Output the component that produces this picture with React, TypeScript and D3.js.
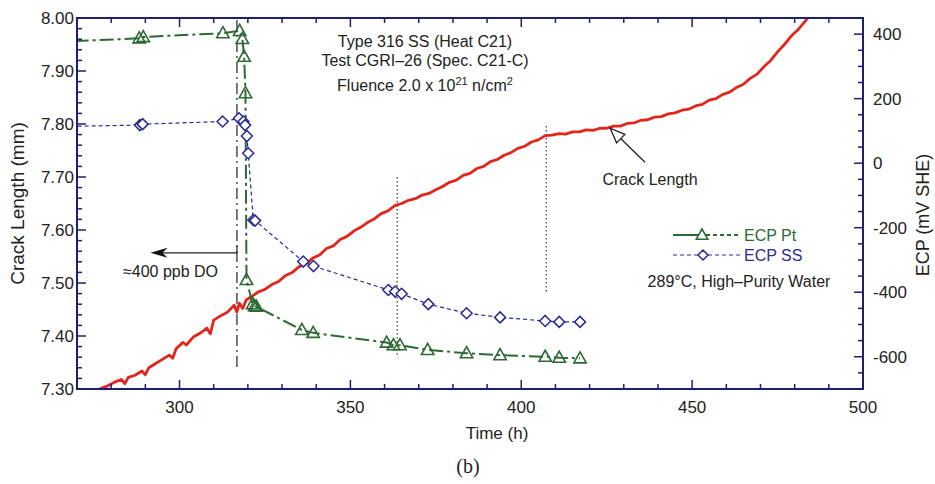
import React from "react";
import * as d3 from "d3";

const W = 935;
const H = 484;

// Axis ticks
const timeTicks = [300, 350, 400, 450, 500];
const crackTicks = [7.3, 7.4, 7.5, 7.6, 7.7, 7.8, 7.9, 8.0];
const ecpTicks = [-600, -400, -200, 0, 200, 400];

// Crack length (red trace)
const crackTime = [276.5, 279, 281, 283, 284, 285, 287, 289, 290, 291, 293, 295, 297, 298, 299, 301, 302, 304, 306, 308, 309, 310, 312, 314, 316, 316.8, 317.5, 318.5, 319.5,
  321, 323, 325, 327, 329, 331, 333, 335, 337, 339, 341, 343, 345, 347, 349, 351, 353, 355, 357, 359, 361, 363, 365, 367, 369, 371, 373, 375, 377, 379, 381, 383, 385, 387, 389, 391, 393, 395, 397, 399, 401, 403, 405, 407, 409, 411, 413, 415, 417, 419, 421, 423, 425, 427, 429, 431, 433, 435, 437, 439, 441, 443, 445, 447, 449, 451, 453, 455, 457, 459, 461, 463, 465, 467, 469, 471, 473, 475, 477, 479, 481, 483, 485];
const crackLen = [7.3, 7.306, 7.313, 7.318, 7.31, 7.322, 7.326, 7.334, 7.327, 7.34, 7.348, 7.356, 7.364, 7.358, 7.376, 7.388, 7.383, 7.398, 7.405, 7.415, 7.404, 7.43, 7.438, 7.445, 7.458, 7.445, 7.462, 7.452, 7.468,
  7.474, 7.483, 7.488, 7.497, 7.503, 7.514, 7.52, 7.531, 7.536, 7.547, 7.553, 7.565, 7.57, 7.582, 7.588, 7.598, 7.605, 7.614, 7.621, 7.631, 7.636, 7.646, 7.65, 7.656, 7.659, 7.666, 7.669, 7.676, 7.682, 7.69, 7.694, 7.703, 7.707, 7.716, 7.72, 7.729, 7.733, 7.741, 7.746, 7.754, 7.758, 7.766, 7.77, 7.778, 7.779, 7.782, 7.781, 7.785, 7.785, 7.789, 7.788, 7.792, 7.792, 7.796, 7.796, 7.801, 7.802, 7.807, 7.808, 7.813, 7.814, 7.819, 7.821, 7.826, 7.828, 7.834, 7.837, 7.845, 7.848, 7.856, 7.86, 7.869, 7.875, 7.886, 7.894, 7.908, 7.92, 7.936, 7.95, 7.966, 7.978, 7.993, 8.01];

// ECP Pt
const ptTime = [262, 288.2, 289.4, 312.7, 317.6, 318.4, 318.9, 319.3, 319.6, 321.4, 322.0, 322.5, 335.8, 339.1, 360.6, 362.6, 364.5, 372.6, 384.0, 393.8, 407.0, 411.1, 417.2];
const ptEcp = [375, 387, 391, 403, 410, 385, 330, 217, -362, -437, -443, -445, -517, -526, -556, -564, -564, -579, -589, -595, -600, -603, -605];

// ECP SS
const ssTime = [262, 288.4, 289.2, 312.6, 317.4, 318.7, 319.2, 319.7, 320.1, 321.6, 322.1, 336.2, 339.2, 361.1, 363.1, 365.0, 372.8, 384.0, 393.8, 407.0, 411.1, 417.2];
const ssEcp = [113, 118, 121, 129, 139, 129, 118, 84, 31, -176, -178, -305, -319, -393, -398, -405, -437, -465, -478, -489, -492, -492];

// Reference lines / annotations (data coordinates)
const doChangeTime = 316.8;
const dottedTimes = [363.7, 407.3];
const dottedRanges = [[7.70, 7.36], [7.796, 7.48]];

const navy = "#1f1f70";
const red = "#e3261c";
const green = "#2c6a33";
const blue = "#2a2a92";
const font = "'Liberation Sans', Arial, sans-serif";

const M = { left: 77, right: 863, top: 18, bottom: 389 };

export default function App() {
  const x = d3.scaleLinear().domain([270, 500]).range([M.left, M.right]);
  const yC = d3.scaleLinear().domain([7.3, 8.0]).range([M.bottom, M.top]);
  const yE = d3.scaleLinear().domain([-700, 450]).range([M.bottom, M.top]);

  const crackPts = crackTime.map((t, i) => [t, crackLen[i]] as [number, number]);
  const ptPts = ptTime.map((t, i) => [t, ptEcp[i]] as [number, number]);
  const ssPts = ssTime.map((t, i) => [t, ssEcp[i]] as [number, number]);

  const crackLine = d3.line<[number, number]>().x(d => x(d[0])).y(d => yC(d[1]));
  const ecpLine = d3.line<[number, number]>().x(d => x(d[0])).y(d => yE(d[1]));

  const minorTime = d3.range(270, 501, 10);
  const minorCrack = d3.range(0, 36).map(i => 7.3 + i * 0.02);
  const minorEcp = d3.range(-700, 451, 50);

  const tri = (cx: number, cy: number, s = 6.5) =>
    `M${cx},${cy - s}L${cx + s * 0.95},${cy + s * 0.7}L${cx - s * 0.95},${cy + s * 0.7}Z`;
  const dia = (cx: number, cy: number, s = 5.5) =>
    `M${cx},${cy - s}L${cx + s},${cy}L${cx},${cy + s}L${cx - s},${cy}Z`;

  const arrowY = yC(7.557);
  const arrowX1 = x(doChangeTime);
  const arrowX0 = x(291.5);

  const tipX = x(426), tipY = yC(7.792);
  const tailX = x(436.2), tailY = yC(7.728);
  const ang = Math.atan2(tipY - tailY, tipX - tailX);
  const ah = 16, aw = 0.38;
  const ahp1 = [tipX - ah * Math.cos(ang - aw), tipY - ah * Math.sin(ang - aw)];
  const ahp2 = [tipX - ah * Math.cos(ang + aw), tipY - ah * Math.sin(ang + aw)];

  return (
    <svg width={W} height={H} style={{ position: "absolute", left: 0, top: 0, background: "#fff" }}>
      <defs>
        <clipPath id="plot">
          <rect x={M.left} y={M.top} width={M.right - M.left} height={M.bottom - M.top} />
        </clipPath>
      </defs>

      {/* reference lines */}
      <line x1={x(doChangeTime)} x2={x(doChangeTime)} y1={M.top + 2} y2={yC(7.34)} stroke="#222" strokeWidth={1.2} strokeDasharray="11,4,2,4" />
      {dottedTimes.map((t, i) => (
        <line key={i} x1={x(t)} x2={x(t)} y1={yC(dottedRanges[i][0])} y2={yC(dottedRanges[i][1])} stroke="#333" strokeWidth={1.2} strokeDasharray="1.5,2.5" />
      ))}

      <g clipPath="url(#plot)">
        <path d={crackLine(crackPts) || ""} fill="none" stroke={red} strokeWidth={2.8} strokeLinejoin="round" />
        <path d={ecpLine(ssPts) || ""} fill="none" stroke={blue} strokeWidth={1.2} strokeDasharray="4,3" />
        <path d={ecpLine(ptPts) || ""} fill="none" stroke={green} strokeWidth={2} strokeDasharray="14,4,3,4" />
        {ssPts.map((d, i) => (
          <path key={"s" + i} d={dia(x(d[0]), yE(d[1]))} fill="#fff" stroke={blue} strokeWidth={1.5} />
        ))}
        {ptPts.map((d, i) => (
          <path key={"p" + i} d={tri(x(d[0]), yE(d[1]))} fill="none" stroke={green} strokeWidth={1.6} />
        ))}
      </g>

      {/* axes frame */}
      <rect x={M.left} y={M.top} width={M.right - M.left} height={M.bottom - M.top} fill="none" stroke={navy} strokeWidth={2} />

      {minorTime.map(t => {
        const major = timeTicks.includes(t);
        const l = major ? 9 : 5;
        return (
          <g key={"tx" + t}>
            <line x1={x(t)} x2={x(t)} y1={M.bottom} y2={M.bottom - l} stroke={navy} strokeWidth={1.5} />
            <line x1={x(t)} x2={x(t)} y1={M.top} y2={M.top + l} stroke={navy} strokeWidth={1.5} />
          </g>
        );
      })}
      {timeTicks.map(t => (
        <text key={"xl" + t} x={x(t)} y={M.bottom + 24} textAnchor="middle" fontFamily={font} fontSize={17} fill="#222">{t}</text>
      ))}

      {minorCrack.map((c, i) => {
        const major = i % 5 === 0;
        const l = major ? 9 : 5;
        return <line key={"cy" + i} x1={M.left} x2={M.left + l} y1={yC(c)} y2={yC(c)} stroke={navy} strokeWidth={1.5} />;
      })}
      {crackTicks.map(c => (
        <text key={"cl" + c} x={M.left - 3} y={yC(c) + 6} textAnchor="end" fontFamily={font} fontSize={17} fill="#222">{c.toFixed(2)}</text>
      ))}

      {minorEcp.map(e => {
        const major = ecpTicks.includes(e);
        const l = major ? 9 : 5;
        return <line key={"ey" + e} x1={M.right} x2={M.right - l} y1={yE(e)} y2={yE(e)} stroke={navy} strokeWidth={1.5} />;
      })}
      {ecpTicks.map(e => (
        <text key={"el" + e} x={M.right + 10} y={yE(e) + 6} textAnchor="start" fontFamily={font} fontSize={17} fill="#222">{e}</text>
      ))}

      {/* axis titles */}
      <text x={497} y={439} textAnchor="middle" fontFamily={font} fontSize={17} fill="#222">Time (h)</text>
      <text transform={`translate(24,${(M.top + M.bottom) / 2}) rotate(-90)`} textAnchor="middle" fontFamily={font} fontSize={19} fill="#222">Crack Length (mm)</text>
      <text transform={`translate(929,215) rotate(-90)`} textAnchor="middle" fontFamily={font} fontSize={18} fill="#222">ECP (mV SHE)</text>
      <text x={468} y={473} textAnchor="middle" fontFamily="'Liberation Serif', 'Times New Roman', serif" fontSize={20} fill="#222">(b)</text>

      {/* title block */}
      <g fontFamily={font} fontSize={16} fill="#222" textAnchor="middle">
        <text x={425} y={47}>Type 316 SS (Heat C21)</text>
        <text x={425} y={66}>Test CGRI–26 (Spec. C21-C)</text>
        <text x={425} y={91}>Fluence 2.0 x 10<tspan dy={-6} fontSize={11}>21</tspan><tspan dy={6}> n/cm</tspan><tspan dy={-6} fontSize={11}>2</tspan></text>
      </g>

      {/* DO arrow */}
      <line x1={arrowX1} x2={arrowX0 + 12} y1={arrowY} y2={arrowY} stroke="#222" strokeWidth={1.2} />
      <line x1={arrowX1} x2={arrowX1} y1={arrowY - 7} y2={arrowY} stroke="#222" strokeWidth={1.2} />
      <path d={`M${arrowX0},${arrowY}L${arrowX0 + 17},${arrowY - 5}L${arrowX0 + 12},${arrowY}L${arrowX0 + 17},${arrowY + 5}Z`} fill="#111" />
      <text x={123} y={277} fontFamily={font} fontSize={16} fill="#222">≈400 ppb DO</text>

      {/* crack length annotation */}
      <line x1={tailX} y1={tailY} x2={tipX} y2={tipY} stroke="#222" strokeWidth={1.3} />
      <path d={`M${ahp1[0]},${ahp1[1]}L${tipX},${tipY}L${ahp2[0]},${ahp2[1]}Z`} fill="#fff" stroke="#222" strokeWidth={1.3} />
      <text x={650} y={185} textAnchor="middle" fontFamily={font} fontSize={16} fill="#222">Crack Length</text>

      {/* legend */}
      <g fontFamily={font} fontSize={16}>
        <line x1={673} x2={700} y1={235} y2={235} stroke={green} strokeWidth={2} />
        <line x1={706} x2={740} y1={235} y2={235} stroke={green} strokeWidth={2} strokeDasharray="4,3" />
        <path d={tri(702, 235, 6)} fill="#fff" stroke={green} strokeWidth={1.6} />
        <text x={744} y={241} fill={green}>ECP Pt</text>
        <line x1={673} x2={740} y1={255} y2={255} stroke={blue} strokeWidth={1.2} strokeDasharray="4,3" />
        <path d={dia(703, 255, 5)} fill="#fff" stroke={blue} strokeWidth={1.5} />
        <text x={744} y={261} fill={blue}>ECP  SS</text>
        <text x={739} y={287} textAnchor="middle" fill="#222">289°C, High–Purity Water</text>
      </g>
    </svg>
  );
}
